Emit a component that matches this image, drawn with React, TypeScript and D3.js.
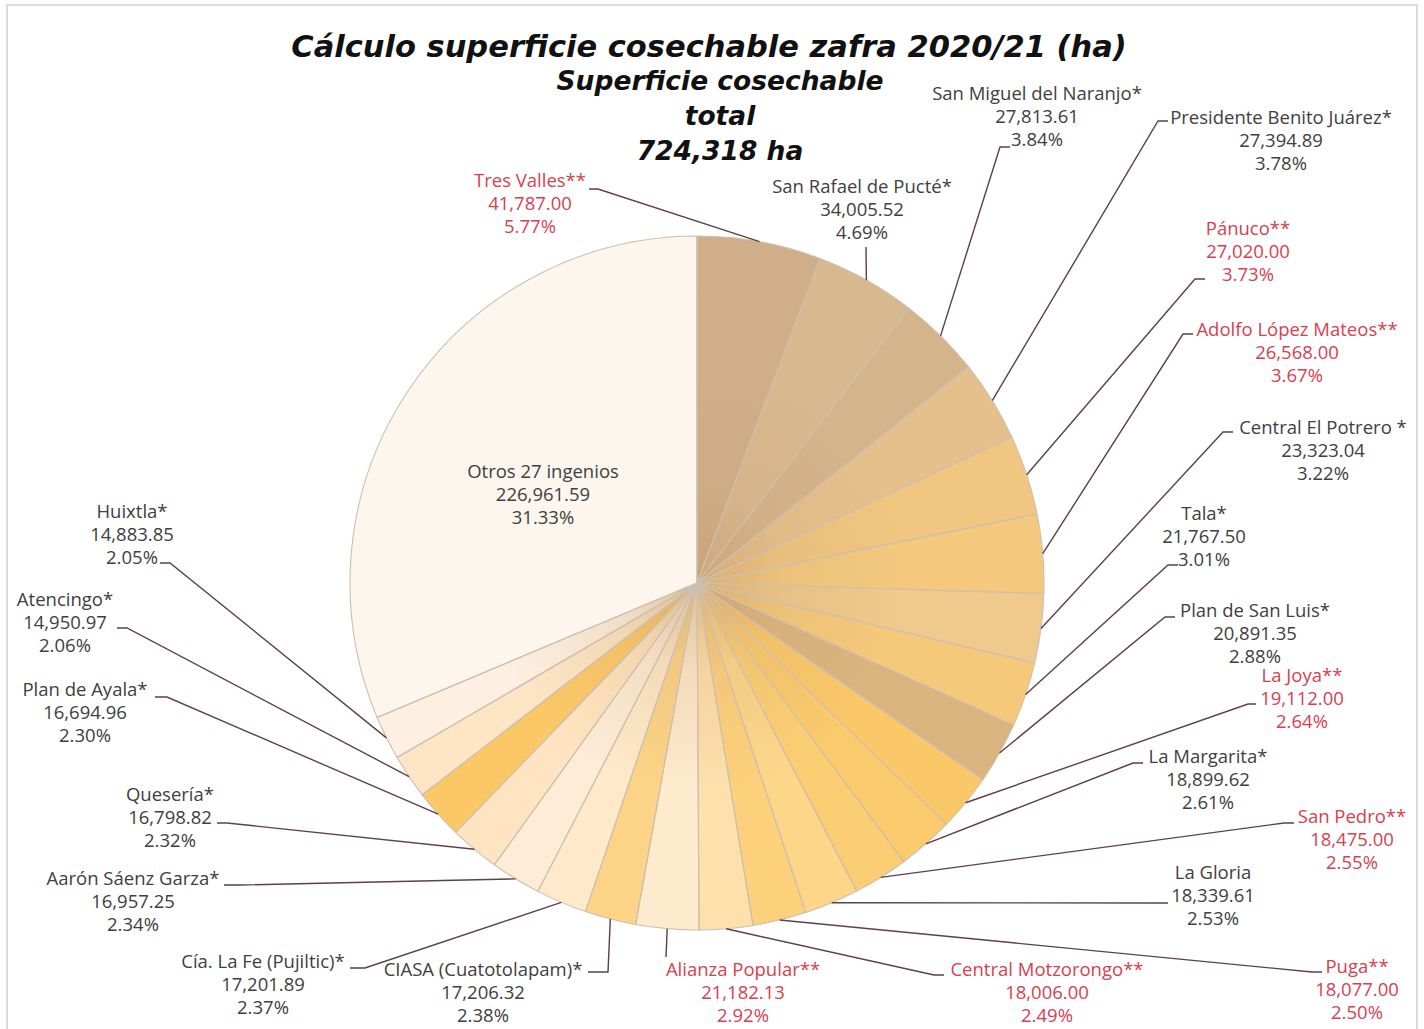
import React from "react";
import * as d3 from "d3";

// ---- data ----
const names = [
  "Tres Valles**", "San Rafael de Pucté*", "San Miguel del Naranjo*", "Presidente Benito Juárez*",
  "Pánuco**", "Adolfo López Mateos**", "Central El Potrero *", "Tala*", "Plan de San Luis*",
  "La Joya**", "La Margarita*", "San Pedro**", "La Gloria", "Puga**", "Central Motzorongo**",
  "Alianza Popular**", "CIASA (Cuatotolapam)*", "Cía. La Fe (Pujiltic)*", "Aarón Sáenz Garza*",
  "Quesería*", "Plan de Ayala*", "Atencingo*", "Huixtla*", "Otros 27 ingenios",
];
const values = [
  41787.0, 34005.52, 27813.61, 27394.89, 27020.0, 26568.0, 23323.04, 21767.5, 20891.35,
  19112.0, 18899.62, 18475.0, 18339.61, 18077.0, 18006.0, 21182.13, 17206.32, 17201.89,
  16957.25, 16798.82, 16694.96, 14950.97, 14883.85, 226961.59,
];
const valueLabels = [
  "41,787.00", "34,005.52", "27,813.61", "27,394.89", "27,020.00", "26,568.00", "23,323.04",
  "21,767.50", "20,891.35", "19,112.00", "18,899.62", "18,475.00", "18,339.61", "18,077.00",
  "18,006.00", "21,182.13", "17,206.32", "17,201.89", "16,957.25", "16,798.82", "16,694.96",
  "14,950.97", "14,883.85", "226,961.59",
];
const percentLabels = [
  "5.77%", "4.69%", "3.84%", "3.78%", "3.73%", "3.67%", "3.22%", "3.01%", "2.88%", "2.64%",
  "2.61%", "2.55%", "2.53%", "2.50%", "2.49%", "2.92%", "2.38%", "2.37%", "2.34%", "2.32%",
  "2.30%", "2.06%", "2.05%", "31.33%",
];
const titleLines = ["Superficie cosechable", "total", "724,318 ha"];
const mainTitle = "Cálculo superficie cosechable zafra 2020/21 (ha)";

// ---- styles / layout ----
const sliceColors = [
  "#cfae88", "#d8b88e", "#d4b48b", "#e5c08c", "#f0c680", "#f4c97e", "#f0c98c", "#f6c97a",
  "#dab47f", "#fbc868", "#fbca6c", "#fcce73", "#fdd68a", "#fdd07b", "#fee0ac", "#feeacd",
  "#fdd387", "#fee9ca", "#feecd7", "#fee4c0", "#fcc866", "#fde5c6", "#fdefe1", "#fdf6ef",
];
// label text center x, first baseline y, leader attach (ax, ay), elbow x (ex)
const layout = [
  { x: 530, y: 187, ax: 589, ay: 189, ex: 598 },
  { x: 862, y: 193, ax: 866, ay: 247, ex: 866 },
  { x: 1037, y: 100, ax: 1010, ay: 147, ex: 1000 },
  { x: 1281, y: 124, ax: 1168, ay: 121, ex: 1158 },
  { x: 1248, y: 235, ax: 1205, ay: 279, ex: 1195 },
  { x: 1297, y: 336, ax: 1193, ay: 334, ex: 1183 },
  { x: 1323, y: 434, ax: 1233, ay: 432, ex: 1223 },
  { x: 1204, y: 520, ax: 1178, ay: 565, ex: 1168 },
  { x: 1255, y: 617, ax: 1175, ay: 617, ex: 1165 },
  { x: 1302, y: 682, ax: 1256, ay: 704, ex: 1248 },
  { x: 1208, y: 763, ax: 1143, ay: 763, ex: 1133 },
  { x: 1352, y: 823, ax: 1294, ay: 823, ex: 1284 },
  { x: 1213, y: 879, ax: 1168, ay: 903, ex: 1158 },
  { x: 1357, y: 973, ax: 1322, ay: 972, ex: 1312 },
  { x: 1047, y: 976, ax: 944, ay: 975, ex: 934 },
  { x: 743, y: 976, ax: 666, ay: 957, ex: 666 },
  { x: 483, y: 976, ax: 588, ay: 972, ex: 608 },
  { x: 263, y: 968, ax: 350, ay: 968, ex: 365 },
  { x: 133, y: 885, ax: 224, ay: 885, ex: 240 },
  { x: 170, y: 801, ax: 217, ay: 823, ex: 227 },
  { x: 85, y: 696, ax: 155, ay: 697, ex: 167 },
  { x: 65, y: 606, ax: 117, ay: 628, ex: 127 },
  { x: 132, y: 518, ax: 160, ay: 563, ex: 170 },
  { x: 543, y: 478, ax: 0, ay: 0, ex: 0 },
];

const W = 1424;
const H = 1029;
const CX = 697;
const CY = 583;
const R = 347;
const LINE = 23;
const FONT = "'Open Sans', 'Noto Sans', sans-serif";
const TITLE_FONT = "'DejaVu Sans', sans-serif";

export default function App() {
  const pie = d3.pie<number>().sort(null).value((d) => d);
  const arcs = pie(values);
  const arcGen = d3.arc<d3.PieArcDatum<number>>().innerRadius(0).outerRadius(R);
  const edgeGen = d3.arc<d3.PieArcDatum<number>>().innerRadius(R).outerRadius(R);
  const lastIdx = values.length - 1;

  return (
    <svg
      width={W}
      height={H}
      style={{ position: "absolute", left: 0, top: 0, background: "#fff" }}
    >
      <defs>
        <radialGradient id="shade" gradientUnits="userSpaceOnUse" cx={0} cy={0} r={R}>
          <stop offset="0%" stopColor="#c49a6a" stopOpacity={0.55} />
          <stop offset="25%" stopColor="#c9a070" stopOpacity={0.2} />
          <stop offset="60%" stopColor="#c9a070" stopOpacity={0.0} />
        </radialGradient>
      </defs>
      <rect x={7} y={5} width={1410} height={1030} fill="none" stroke="#dcdcdc" strokeWidth={2} />

      {/* titles */}
      <text
        x={709}
        y={57}
        textAnchor="middle"
        fontFamily={TITLE_FONT}
        fontWeight={700}
        fontStyle="italic"
        fontSize={30.5}
        fill="#111"
      >
        {mainTitle}
      </text>
      {titleLines.map((t, i) => (
        <text
          key={t}
          x={720}
          y={90 + i * 35}
          textAnchor="middle"
          fontFamily={TITLE_FONT}
          fontWeight={700}
          fontStyle="italic"
          fontSize={26.5}
          fill="#111"
        >
          {t}
        </text>
      ))}

      {/* pie */}
      <g transform={`translate(${CX},${CY})`}>
        {arcs.map((a, i) => (
          <path key={"s" + i} d={arcGen(a) || ""} fill={sliceColors[i]} />
        ))}
        {arcs.map((a, i) =>
          i === lastIdx ? null : (
            <path key={"h" + i} d={arcGen(a) || ""} fill="url(#shade)" />
          )
        )}
        {arcs.map((a, i) => (
          <path key={"o" + i} d={arcGen(a) || ""} fill="none" stroke="#cdbfae" strokeWidth={1.1} />
        ))}
      </g>

      {/* leaders */}
      {arcs.map((a, i) => {
        if (i === lastIdx) return null;
        const [px, py] = edgeGen.centroid(a);
        const L = layout[i];
        const d = `M${L.ax},${L.ay}L${L.ex},${L.ay}L${px + CX},${py + CY}`;
        return <path key={"l" + i} d={d} fill="none" stroke="#5e3f4a" strokeWidth={1.4} />;
      })}

      {/* labels */}
      {names.map((n, i) => {
        const L = layout[i];
        const red = n.endsWith("**");
        const fill = red ? "#d9404f" : "#404040";
        return (
          <text
            key={"t" + i}
            x={L.x}
            y={L.y}
            textAnchor="middle"
            fontFamily={FONT}
            fontSize={18.5}
            fill={fill}
          >
            <tspan x={L.x} dy={0}>{n}</tspan>
            <tspan x={L.x} dy={LINE}>{valueLabels[i]}</tspan>
            <tspan x={L.x} dy={LINE}>{percentLabels[i]}</tspan>
          </text>
        );
      })}
    </svg>
  );
}
